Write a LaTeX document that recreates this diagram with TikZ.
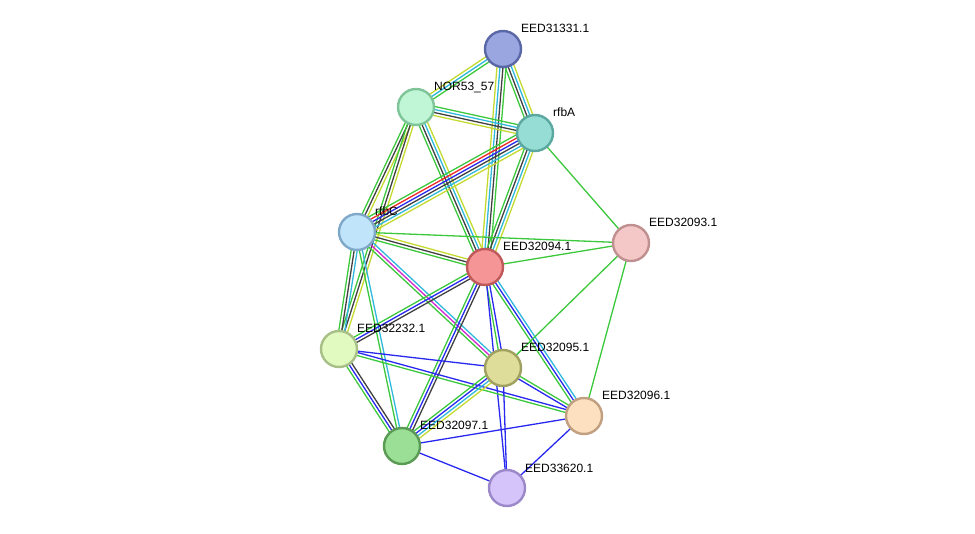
\documentclass[tikz,border=0pt]{standalone}
\usepackage{fontspec}
\setmainfont{Liberation Sans}
\usetikzlibrary{calc}
\pgfdeclarelayer{bg}
\pgfsetlayers{bg,main}

% evidence colours
\definecolor{sgreen}{HTML}{3CC83C}
\definecolor{sblack}{HTML}{404040}
\definecolor{scyan}{HTML}{30B8DC}
\definecolor{syg}{HTML}{C4DA30}
\definecolor{sblue}{HTML}{2828F0}
\definecolor{sred}{HTML}{F02828}
\definecolor{smag}{HTML}{D028D0}
% node colours
\definecolor{f31331}{HTML}{9AA6E0}\definecolor{d31331}{HTML}{5A68A8}
\definecolor{fnor}{HTML}{C0F5D5}\definecolor{dnor}{HTML}{7EC59A}
\definecolor{frfba}{HTML}{96DDD5}\definecolor{drfba}{HTML}{5AA8A0}
\definecolor{frfbc}{HTML}{C0E5FA}\definecolor{drfbc}{HTML}{80A8C8}
\definecolor{f94}{HTML}{F59595}\definecolor{d94}{HTML}{C05A5A}
\definecolor{f93}{HTML}{F5C8C8}\definecolor{d93}{HTML}{C09090}
\definecolor{f232}{HTML}{E0FAC0}\definecolor{d232}{HTML}{A8C088}
\definecolor{f95}{HTML}{DEDE9A}\definecolor{d95}{HTML}{A0A060}
\definecolor{f96}{HTML}{FDE0C0}\definecolor{d96}{HTML}{C0A080}
\definecolor{f97}{HTML}{9ADF95}\definecolor{d97}{HTML}{5A9A55}
\definecolor{f620}{HTML}{D4C4FA}\definecolor{d620}{HTML}{9A88C8}

\tikzset{
  prot/.style 2 args={circle, minimum size=36pt, inner sep=0pt, line width=2.4pt, fill=#1, draw=#2},
  lbl/.style={anchor=base west, inner sep=0pt, font=\fontsize{12}{14}\selectfont},
  edge/.style={line width=1.3pt}
}

% one line per evidence channel, side by side
\newcommand{\link}[3]{%
  \foreach \c [count=\k] in {#3}{\xdef\ncol{\k}}%
  \foreach \c [count=\i] in {#3}{%
    \pgfmathsetmacro{\off}{(\i-(\ncol+1)/2)*3}
    \draw[\c,edge] ($(#1)!\off pt!90:(#2)$) -- ($(#2)!\off pt!-90:(#1)$);
  }}

\begin{document}
\begin{tikzpicture}[x=1pt,y=-1pt]
\useasboundingbox (0,0) rectangle (975,534);

% proteins
\node[prot={f31331}{d31331}] (n31331) at (503,49) {};
\node[prot={fnor}{dnor}] (nor) at (416,107) {};
\node[prot={frfba}{drfba}] (rfba) at (535,133) {};
\node[prot={frfbc}{drfbc}] (rfbc) at (357,232) {};
\node[prot={f94}{d94}] (n94) at (485,267) {};
\node[prot={f93}{d93}] (n93) at (631,243) {};
\node[prot={f232}{d232}] (n232) at (339,349) {};
\node[prot={f95}{d95}] (n95) at (503,368) {};
\node[prot={f96}{d96}] (n96) at (584,416) {};
\node[prot={f97}{d97}] (n97) at (402,446) {};
\node[prot={f620}{d620}] (n620) at (507,488) {};

% names
\node[lbl] (t31331) at ($(n31331)+(18,-16)$) {EED31331.1};
\node[lbl] (tnor) at ($(nor)+(18,-16)$) {NOR53\_57};
\node[lbl] (trfba) at ($(rfba)+(18,-16)$) {rfbA};
\node[lbl] (trfbc) at ($(rfbc)+(18,-16)$) {rfbC};
\node[lbl] (t94) at ($(n94)+(18,-16)$) {EED32094.1};
\node[lbl] (t93) at ($(n93)+(18,-16)$) {EED32093.1};
\node[lbl] (t232) at ($(n232)+(18,-16)$) {EED32232.1};
\node[lbl] (t95) at ($(n95)+(18,-16)$) {EED32095.1};
\node[lbl] (t96) at ($(n96)+(18,-16)$) {EED32096.1};
\node[lbl] (t97) at ($(n97)+(18,-16)$) {EED32097.1};
\node[lbl] (t620) at ($(n620)+(18,-16)$) {EED33620.1};

% interactions
\begin{pgfonlayer}{bg}
\link{n31331}{nor}{syg,scyan,sgreen}
\link{n31331}{rfba}{sgreen,sblack,scyan,syg}
\link{n31331}{n94}{syg,scyan,sblack,sgreen}
\link{nor}{rfba}{syg,sblack,scyan,sgreen}
\link{nor}{rfbc}{sgreen,sblack,syg}
\link{nor}{n232}{sgreen,sblack,syg}
\link{nor}{n94}{sgreen,sblack,scyan,syg}
\link{rfba}{rfbc}{sgreen,sred,sblue,sblack,scyan,syg}
\link{rfba}{n94}{sgreen,sblack,scyan,syg}
\link{rfba}{n93}{sgreen}
\link{rfbc}{n94}{sgreen,sblack,syg}
\link{rfbc}{n93}{sgreen}
\link{rfbc}{n232}{sgreen,sblack,scyan}
\link{rfbc}{n95}{sgreen,smag,scyan}
\link{rfbc}{n97}{sgreen,scyan}
\link{n94}{n93}{sgreen}
\link{n94}{n232}{sgreen,sblue,sblack}
\link{n94}{n95}{sgreen,sblue}
\link{n94}{n96}{sgreen,sblue,scyan}
\link{n94}{n97}{sgreen,sblue,sblack}
\link{n94}{n620}{sblue}
\link{n93}{n95}{sgreen}
\link{n93}{n96}{sgreen}
\link{n232}{n95}{sblue}
\link{n232}{n96}{sgreen,sblue}
\link{n232}{n97}{sgreen,sblue,sblack}
\link{n95}{n97}{sgreen,sblue,scyan,syg}
\link{n95}{n96}{sblue,sgreen}
\link{n95}{n620}{sblue}
\link{n96}{n97}{sblue}
\link{n96}{n620}{sblue}
\link{n97}{n620}{sblue}
\end{pgfonlayer}
\end{tikzpicture}
\end{document}
